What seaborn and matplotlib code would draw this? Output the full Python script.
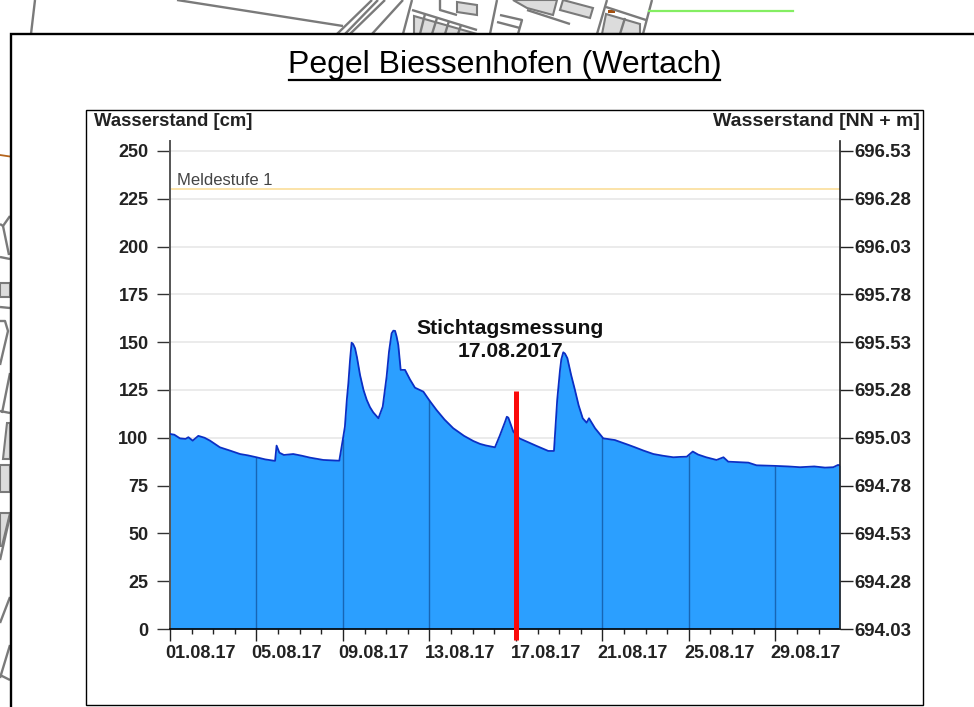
import numpy as np
import pandas as pd
import matplotlib
matplotlib.use('Agg')
import matplotlib.pyplot as plt
import seaborn as sns
from matplotlib.patches import Polygon, Rectangle
from matplotlib.transforms import ScaledTranslation

# Pegel values, day offset from 01.08.17
tage = [0.0, 0.2, 0.46, 0.72, 0.85, 1.05, 1.31, 1.6, 1.85, 2.31, 2.8, 3.24, 3.6, 4.0, 4.4, 4.86, 4.93, 5.06, 5.27, 5.7, 6.1, 6.48, 7.09, 7.83,
        7.99, 8.09, 8.18, 8.25, 8.33, 8.4, 8.47, 8.56, 8.65, 8.79, 8.95, 9.1, 9.25, 9.4, 9.64, 9.84, 10.02, 10.13, 10.25, 10.33, 10.41, 10.48, 10.56, 10.67, 10.87, 11.1, 11.33,
        11.72, 12.0, 12.33, 12.7, 13.1, 13.6, 14.03, 14.34, 14.6, 15.03, 15.25, 15.5, 15.58, 15.65, 15.88, 16.16, 16.96, 17.5, 17.76, 17.91, 18.04, 18.1, 18.19, 18.27,
        18.38, 18.55, 18.73, 18.9, 19.09, 19.27, 19.38, 19.66, 20.04, 20.58, 20.9, 21.2, 21.51, 21.9, 22.36, 22.8, 23.28, 23.6, 23.9, 24.18, 24.43, 24.8, 25.28,
        25.6, 25.82, 26.2, 26.75, 27.13, 27.98, 28.6, 29.14, 29.8, 30.3, 30.68, 30.9, 30.99]
pegel = [102, 101.6, 99.7, 99.4, 100.3, 98.5, 101, 100, 98.5, 95, 93.2, 91.5, 90.8, 89.8, 88.7, 87.9, 95.9, 92.2, 91, 91.5, 90.6, 89.6, 88.4, 88,
         98.8, 105.8, 120, 128.5, 141, 149.7, 149, 146.8, 142, 132.8, 125, 119.8, 116, 113.3, 110.2, 116.3, 132, 145, 154.6, 156, 155.9, 153, 148.5, 135.5, 135.5, 130.5, 126.2,
         124.1, 119.5, 114.5, 109.5, 105, 101, 98.3, 96.8, 96, 95, 101, 108.4, 111, 110.5, 103.2, 99.7, 95.7, 93.1, 93.1, 119.8, 135.5, 141, 144.7, 144,
         141.6, 133, 125, 117, 110.2, 107.9, 110.2, 105, 99.7, 98.8, 97.5, 96.3, 95, 93.3, 91.5, 90.6, 89.8, 90, 90.1, 92.8, 91.2, 89.8, 88.4,
         89.8, 87.5, 87.3, 87, 85.6, 85.3, 85, 84.6, 85, 84.4, 84.6, 85.8, 85.5]

y_ticks = [0, 25, 50, 75, 100, 125, 150, 175, 200, 225, 250]
y_labels_nn = ["694.03", "694.28", "694.53", "694.78", "695.03", "695.28", "695.53", "695.78", "696.03", "696.28", "696.53"]
x_ticks = [0, 4, 8, 12, 16, 20, 24, 28]
x_labels = ["01.08.17", "05.08.17", "09.08.17", "13.08.17", "17.08.17", "21.08.17", "25.08.17", "29.08.17"]
meldestufe = 230
stichtag = 16
stichtag_bis = 124.5

W, H = 974, 707
FONT = "Liberation Sans"
plt.rcParams["font.family"] = FONT

df = pd.DataFrame({"tag": tage, "pegel": pegel})

fig = plt.figure(figsize=(W / 100, H / 100), dpi=100, facecolor="white")

# ---- map remains behind the panel, pixel coords
bg = fig.add_axes([0, 0, 1, 1], zorder=0)
bg.set_xlim(0, W)
bg.set_ylim(H, 0)
bg.axis("off")

map_fill = [
    [(0, 283), (10, 283), (10, 297), (0, 297)],
    [(7, 423), (10, 423), (10, 459), (3, 459)],
    [(0, 465), (10, 465), (10, 492), (0, 492)],
    [(0, 513), (10, 513), (2, 546), (0, 546)],
    [(513, 0), (527, 8), (553, 15), (557, 0)],
    [(563, 0), (593, 8), (590, 18), (560, 10)],
    [(457, 2), (477, 5), (477, 15), (457, 12)],
    [(414, 16), (477, 34), (414, 34)],
    [(606, 14), (640, 24), (640, 34), (602, 34)],
]
for p in map_fill:
    bg.add_patch(Polygon(p, closed=True, fc="#dcdcdc", ec="#7a7a7a", lw=1.5))

map_lines = [
    [(35, 0), (31, 34)],
    [(177, 0), (343, 26)],
    [(337, 34), (372, 0)],
    [(345, 34), (378, 0)],
    [(350, 34), (385, 0)],
    [(372, 34), (403, 0)],
    [(412, 0), (403, 34)],
    [(412, 10), (477, 30)],
    [(440, 0), (440, 10), (457, 15)],
    [(425, 14), (420, 34)],
    [(437, 18), (432, 34)],
    [(449, 21), (445, 34)],
    [(461, 25), (458, 34)],
    [(497, 0), (490, 34)],
    [(500, 15), (522, 20), (518, 34)],
    [(497, 22), (520, 28)],
    [(527, 10), (570, 24)],
    [(607, 0), (597, 34)],
    [(606, 7), (646, 20)],
    [(652, 0), (643, 34)],
    [(625, 18), (620, 34)],
    [(0, 224), (3, 226), (10, 216)],
    [(3, 226), (9, 255)],
    [(0, 257), (10, 259)],
    [(0, 307), (10, 308)],
    [(0, 321), (5, 321), (8, 331), (0, 365)],
    [(10, 373), (2, 413)],
    [(0, 411), (10, 413)],
    [(10, 516), (0, 560)],
    [(10, 597), (0, 623)],
    [(10, 645), (0, 678)],
    [(0, 675), (10, 680)],
]
for l in map_lines:
    xs, ys = zip(*l)
    bg.plot(xs, ys, color="#7a7a7a", lw=1.7, solid_capstyle="butt")
bg.plot([0, 10], [155, 156.5], color="#b5651d", lw=1.3)
bg.add_patch(Rectangle((608, 10), 7, 3, fc="#a5500f", ec="none"))
bg.plot([649, 793], [11, 11], color="#84ee62", lw=1.6)

# ---- white panel and chart frame
bg.add_patch(Rectangle((11, 34), W, H, fc="white", ec="black", lw=1.7, zorder=5))
bg.add_patch(Rectangle((86, 110), 837, 595, fc="white", ec="black", lw=1.0, zorder=6))

bg.text(505, 65, "Pegel Biessenhofen (Wertach)", fontsize=23, ha="center", va="center", color="black", zorder=7)
bg.plot([289, 720], [80, 80], color="black", lw=1.6, zorder=7)
bg.text(94, 121, "Wasserstand [cm]", fontsize=13.3, fontweight="bold", ha="left", va="center", color="#222222", zorder=7)
bg.text(920, 121, "Wasserstand [NN + m]", fontsize=14, fontweight="bold", ha="right", va="center", color="#222222", zorder=7)

# ---- hydrograph, 170..840 / 141..629 px
ax = fig.add_axes([170 / W, 1 - 629 / H, 670 / W, 488 / H], zorder=2)
ax.patch.set_alpha(0)
ax.set_xlim(0, 30.99)
ax.set_ylim(0, 255.2)

ax.hlines(y_ticks, 0, 30.99, color="#e8e8e8", lw=1.2, zorder=1)
ax.axhline(meldestufe, color="#fbe3a8", lw=1.4, zorder=1)
ax.text(0.33, meldestufe + 0.8, "Meldestufe 1", fontsize=12, color="#444444", ha="left", va="bottom")

ax.fill_between(tage, pegel, 0, color="#2b9fff", lw=0, zorder=2)
sns.lineplot(data=df, x="tag", y="pegel", estimator=None, color="#0b2fc4", lw=1.3, ax=ax, zorder=3)
ax.vlines(x_ticks[1:], 0, np.interp(x_ticks[1:], tage, pegel), color="#1766b5", lw=1.0, zorder=2.5)

ax.plot([stichtag, stichtag], [-5.7, stichtag_bis], color="#fb0a0a", lw=3.6, solid_capstyle="butt", clip_on=False, zorder=5)
ax.text(15.75, 151, "Stichtagsmessung\n17.08.2017", fontsize=15.2, fontweight="bold", ha="center", va="center",
        color="#111111", linespacing=1.27, zorder=6)

ax.set_xlabel("")
ax.set_ylabel("")
ax.set_xticks(x_ticks, x_labels)
ax.set_xticks(np.arange(0, 31), minor=True)
ax.set_yticks(y_ticks, [str(v) for v in y_ticks])
ax.tick_params(axis="y", length=9.4, width=1.0, color="#333333", labelsize=13, labelcolor="#222222", pad=6)
ax.tick_params(axis="x", which="major", length=8.6, width=1.0, color="#222222", labelsize=13, labelcolor="#222222", pad=3)
ax.tick_params(axis="x", which="minor", length=3.4, width=1.0, color="#222222")
for t in ax.get_yticklabels():
    t.set_fontweight("bold")
# date labels start just left of their tick, not centred on it
shift = ScaledTranslation(-5 / 100, 0, fig.dpi_scale_trans)
for t in ax.get_xticklabels():
    t.set_fontweight("bold")
    t.set_ha("left")
    t.set_transform(t.get_transform() + shift)
ax.spines["top"].set_visible(False)
ax.spines["right"].set_visible(False)
ax.spines["left"].set_color("#555555")
ax.spines["left"].set_linewidth(1.4)
ax.spines["bottom"].set_linewidth(1.2)

ax2 = ax.twinx()
ax2.set_ylim(ax.get_ylim())
ax2.set_yticks(y_ticks, y_labels_nn)
ax2.tick_params(axis="y", length=9.4, width=1.0, color="#222222", labelsize=13.4, labelcolor="#222222", pad=1)
for t in ax2.get_yticklabels():
    t.set_fontweight("bold")
for s in ["top", "left", "bottom"]:
    ax2.spines[s].set_visible(False)
ax2.spines["right"].set_color("#222222")
ax2.spines["right"].set_linewidth(1.2)

fig.savefig("out.png", dpi=100)
plt.close(fig)
